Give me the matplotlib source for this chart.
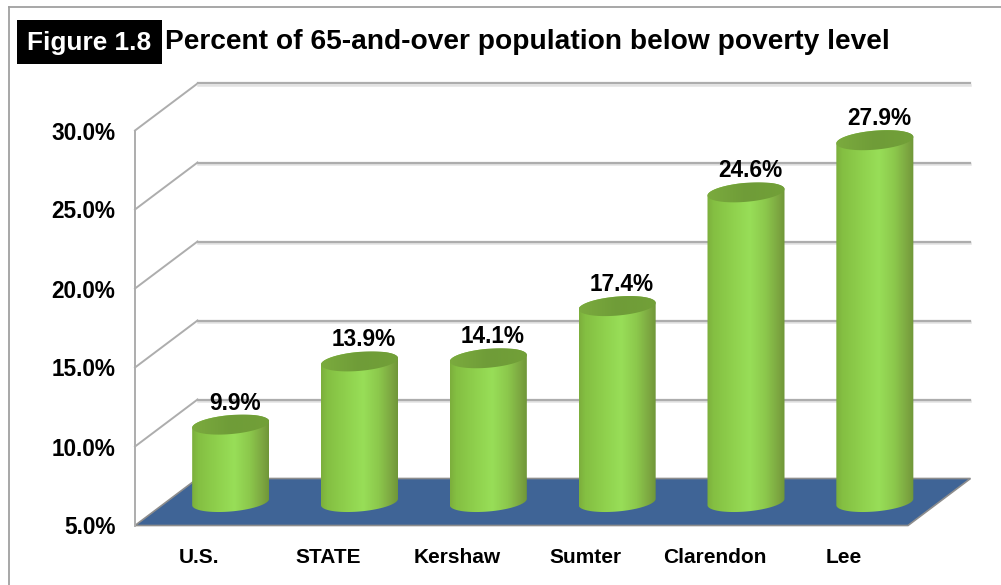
import numpy as np
import matplotlib
matplotlib.use("Agg")
import matplotlib.pyplot as plt
from matplotlib.colors import LinearSegmentedColormap
from matplotlib.patches import PathPatch, Polygon, Rectangle
from matplotlib.path import Path
from matplotlib.lines import Line2D

categories = ["U.S.", "STATE", "Kershaw", "Sumter", "Clarendon", "Lee"]
values = [9.9, 13.9, 14.1, 17.4, 24.6, 27.9]
y_ticks = [5, 10, 15, 20, 25, 30]

W, H = 1001, 585
plt.rcParams["font.family"] = ["Liberation Sans", "DejaVu Sans"]
plt.rcParams["font.weight"] = "bold"

fig = plt.figure(figsize=(W / 100, H / 100), dpi=100, facecolor="white")
ax = fig.add_axes([135 / W, 1 - 525.5 / H, 773 / W, 395 / H], facecolor="none")
ax.set_xlim(-0.5, 5.5)
ax.set_ylim(5, 30)

px_x = 773 / 6          # pixels per category
px_y = 395 / 25         # pixels per percent
depth_x = 62.5 / px_x   # depth of the 3-D box in data units
depth_y = 47 / px_y
GRID = "#adadad"

# frame (top and left only are visible in the reference)
fig.add_artist(Line2D([8.5 / W, 8.5 / W], [0, 1 - 6.5 / H], color="#a0a0a0", lw=1.3))
fig.add_artist(Line2D([8.5 / W, 1], [1 - 6.5 / H, 1 - 6.5 / H], color="#a0a0a0", lw=1.3))

# title block
fig.add_artist(Rectangle((17 / W, 1 - 64 / H), 145 / W, 44 / H, color="black", lw=0))
fig.text(89 / W, 1 - 43 / H, "Figure 1.8", color="white", fontsize=18.9, ha="center", va="center")
fig.text(165 / W, 1 - 42 / H, "Percent of 65-and-over population below poverty level",
         color="black", fontsize=20.25, ha="left", va="center")

x0, x1 = -0.5, 5.5
# floor
ax.add_patch(Polygon([(x0, 5), (x0 + depth_x, 5 + depth_y), (x1 + depth_x, 5 + depth_y), (x1, 5)],
                     closed=True, facecolor="#3f6496", edgecolor="#8d8d8d", lw=1.2,
                     clip_on=False, zorder=1))
# walls and gridlines
for t in y_ticks:
    yb = t + depth_y
    if t > 5:
        ax.plot([x0, x0 + depth_x], [t, yb], color=GRID, lw=1.4, clip_on=False, zorder=1)
        ax.plot([x0 + depth_x, x1 + depth_x], [yb - 0.07, yb - 0.07], color="#e2e2e2", lw=1.8,
                clip_on=False, zorder=1)
        ax.plot([x0 + depth_x, x1 + depth_x], [yb, yb], color=GRID, lw=1.6, clip_on=False, zorder=1)

side_cmap = LinearSegmentedColormap.from_list(
    "side", [(0, "#7cae3c"), (0.08, "#84bf42"), (0.35, "#90d24e"), (0.55, "#98de58"),
             (0.75, "#8cc84c"), (0.93, "#7ba440"), (1, "#6f9638")])
top_cmap = LinearSegmentedColormap.from_list("top", ["#7bab3e", "#6f9c38", "#72a038"])

half_w = 38.5 / px_x
rad_y = 9.5 / px_y
tilt = 3.2 / px_y
t_low = np.linspace(np.pi, 2 * np.pi, 60)
t_up = np.linspace(0, np.pi, 60)


def rim(cx, cy, t):
    return np.column_stack([cx + half_w * np.cos(t), cy + rad_y * np.sin(t) + tilt * np.cos(t)])


grad = np.linspace(0, 1, 256)[None, :]
for i, v in enumerate(values):
    cx = i + depth_x / 2
    base = 5 + depth_y / 2
    top = v + depth_y / 2
    verts = np.vstack([rim(cx, base, t_low), rim(cx, top, t_up), [[0, 0]]])
    codes = [Path.MOVETO] + [Path.LINETO] * (len(verts) - 2) + [Path.CLOSEPOLY]
    body = PathPatch(Path(verts, codes), transform=ax.transData, facecolor="none", edgecolor="none")
    ax.add_patch(body)
    body.set_clip_on(False)
    im = ax.imshow(grad, cmap=side_cmap, extent=[cx - half_w, cx + half_w, base - rad_y - tilt, top + rad_y],
                   aspect="auto", zorder=3)
    im.set_clip_box(fig.bbox)
    im.set_clip_path(body)

    cap_t = np.linspace(0, 2 * np.pi, 120)
    cap_v = np.vstack([rim(cx, top, cap_t), [[0, 0]]])
    cap_c = [Path.MOVETO] + [Path.LINETO] * (len(cap_v) - 2) + [Path.CLOSEPOLY]
    cap = PathPatch(Path(cap_v, cap_c), transform=ax.transData, facecolor="none", edgecolor="none")
    ax.add_patch(cap)
    cap.set_clip_on(False)
    im2 = ax.imshow(grad, cmap=top_cmap, extent=[cx - half_w, cx + half_w, top - rad_y - tilt, top + rad_y + tilt],
                    aspect="auto", zorder=4)
    im2.set_clip_box(fig.bbox)
    im2.set_clip_path(cap)

    ax.annotate(f"{v:.1f}%", (cx, top), xytext=(3, 15.5), textcoords="offset points",
                ha="center", va="center", fontsize=16.3, color="black", zorder=6,
                annotation_clip=False)

ax.set_xlim(-0.5, 5.5)
ax.set_ylim(5, 30)
ax.set_xticks(range(len(categories)))
ax.set_xticklabels(categories, fontsize=15)
ax.set_yticks(y_ticks)
ax.set_yticklabels([f"{t:.1f}%" for t in y_ticks], fontsize=16.3)
ax.tick_params(axis="both", length=0)
ax.tick_params(axis="x", pad=16)
ax.tick_params(axis="y", pad=14)
for s in ["top", "right", "bottom"]:
    ax.spines[s].set_visible(False)
ax.spines["left"].set_color(GRID)
ax.spines["left"].set_linewidth(1.4)

fig.savefig("out.png", dpi=100)
